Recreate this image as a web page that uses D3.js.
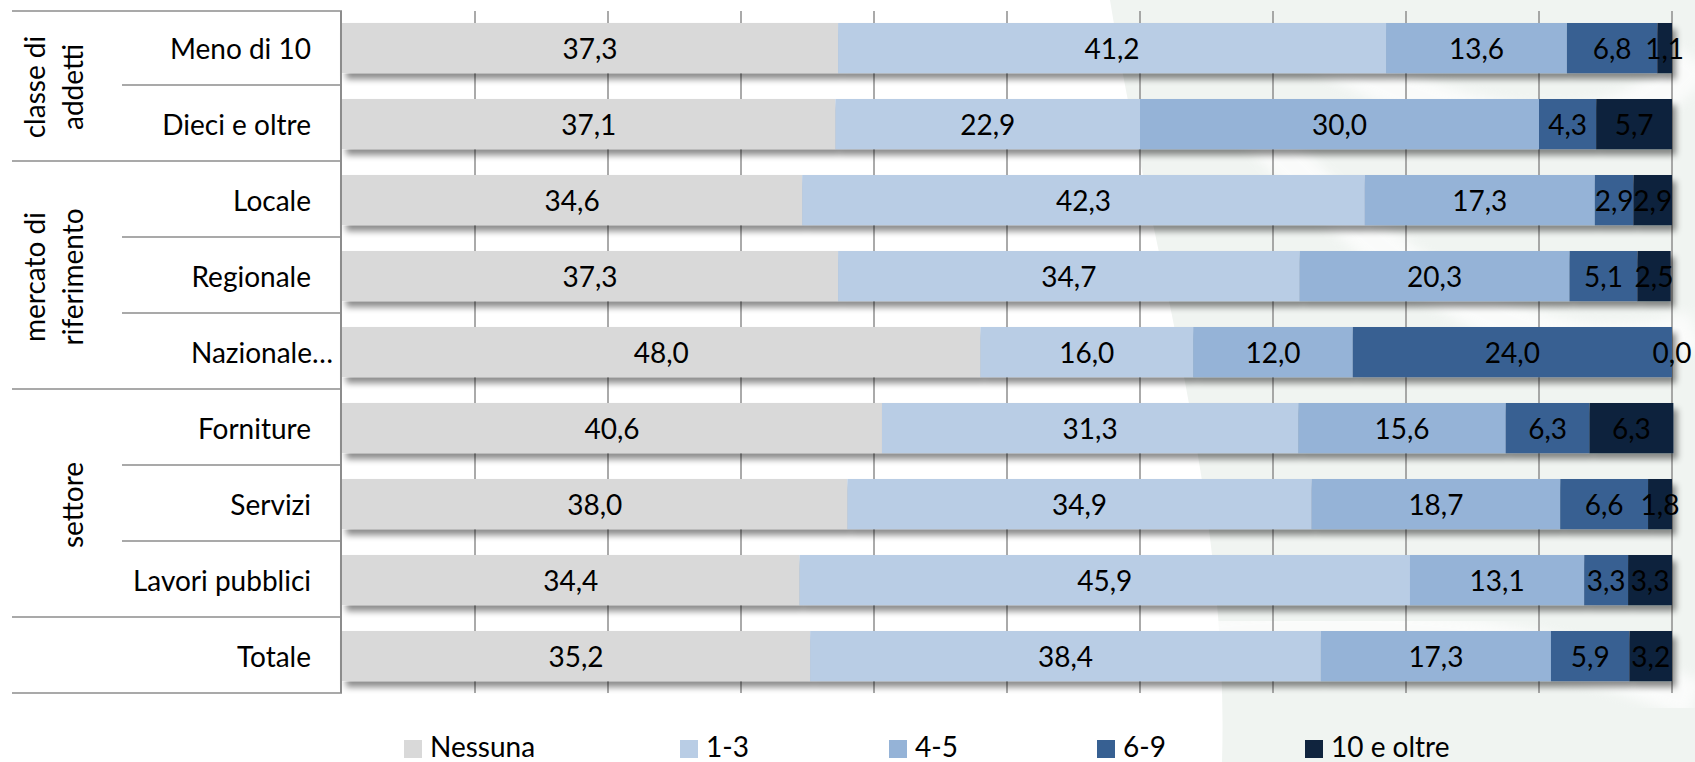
<!DOCTYPE html>
<html>
<head>
<meta charset="utf-8">
<script src="https://cdn.jsdelivr.net/npm/d3@7"></script>
<style>
  html, body { margin: 0; padding: 0; background: #fff; }
  svg { display: block; font-family: Lato, "Open Sans", sans-serif; }
</style>
</head>
<body>
<div id="chart"></div>
<script>
(function () {
    // Data
    var rows = ['Meno di 10', 'Dieci e oltre', 'Locale', 'Regionale', 'Nazionale\u2026',
                'Forniture', 'Servizi', 'Lavori pubblici', 'Totale'];
    var seriesNames = ['Nessuna', '1-3', '4-5', '6-9', '10 e oltre'];
    var nessuna = [37.3, 37.1, 34.6, 37.3, 48.0, 40.6, 38.0, 34.4, 35.2];
    var da1a3 = [41.2, 22.9, 42.3, 34.7, 16.0, 31.3, 34.9, 45.9, 38.4];
    var da4a5 = [13.6, 30.0, 17.3, 20.3, 12.0, 15.6, 18.7, 13.1, 17.3];
    var da6a9 = [6.8, 4.3, 2.9, 5.1, 24.0, 6.3, 6.6, 3.3, 5.9];
    var oltre10 = [1.1, 5.7, 2.9, 2.5, 0.0, 6.3, 1.8, 3.3, 3.2];
    var groupLabels = [['classe di', 'addetti'], ['mercato di', 'riferimento'], ['settore'], ['']];
    var groupSizes = [2, 3, 3, 1];
    var xTicks = [10, 20, 30, 40, 50, 60, 70, 80, 90, 100];

    var colors = ['#d9d9d9', '#b9cde5', '#95b3d7', '#376092', '#10243e'];
    var W = 1695, H = 762;
    var PLOT_L = 342, PLOT_R = 1672, TOP = 11, BOTTOM = 695;
    var TABLE_L = 12, INNER_L = 122;
    var FONT = 28;

    var table = rows.map(function (r, i) {
        return { row: r, values: [nessuna[i], da1a3[i], da4a5[i], da6a9[i], oltre10[i]] };
    });

    var svg = d3.select('#chart').append('svg')
        .attr('width', W).attr('height', H)
        .attr('viewBox', [0, 0, W, H]);

    var defs = svg.append('defs');
    var f = defs.append('filter').attr('id', 'shadow')
        .attr('x', '-5%').attr('y', '-20%').attr('width', '115%').attr('height', '160%');
    f.append('feDropShadow').attr('dx', 4).attr('dy', 6).attr('stdDeviation', 3)
        .attr('flood-color', '#000').attr('flood-opacity', 0.45);
    defs.append('filter').attr('id', 'soft')
        .append('feGaussianBlur').attr('stdDeviation', 6);

    // Faint watermark on the right
    var bg = svg.append('g').attr('class', 'bg-layer');
    bg.append('path')
        .attr('d', 'M1110,0 C1150,250 1230,500 1222,762 L1695,762 L1695,0 Z')
        .attr('fill', '#f0f4f1');
    [[1250, 120, 1500, 400, 1695, 330], [1180, 640, 1450, 600, 1695, 700], [1300, 40, 1580, 200, 1695, 60]]
        .forEach(function (p) {
            bg.append('path')
                .attr('d', 'M' + p[0] + ',' + p[1] + ' Q' + p[2] + ',' + p[3] + ' ' + p[4] + ',' + p[5])
                .attr('fill', 'none').attr('stroke', '#fff').attr('stroke-width', 40)
                .attr('opacity', 0.7).attr('filter', 'url(#soft)');
        });

    var x = d3.scaleLinear().domain([0, 100]).range([PLOT_L, PLOT_R]);
    var y = d3.scaleBand().domain(rows).range([TOP, BOTTOM]).padding(0);
    var barOff = 12, barH = y.bandwidth() * 0.66;

    // Gridlines
    svg.append('g').selectAll('line').data(xTicks).join('line')
        .attr('x1', function (d) { return x(d); }).attr('x2', function (d) { return x(d); })
        .attr('y1', TOP).attr('y2', BOTTOM - 2)
        .attr('stroke', '#868686').attr('stroke-width', 1.4);

    // Stacked bars
    var stack = d3.stack().keys([0, 1, 2, 3, 4]).value(function (d, k) { return d.values[k]; });
    var layers = stack(table);

    var barG = svg.append('g');
    var rowG = barG.selectAll('g.row').data(table).join('g')
        .attr('class', 'row').attr('filter', 'url(#shadow)');
    rowG.each(function (d, i) {
        d3.select(this).selectAll('rect').data(layers.map(function (l) { return l[i]; })).join('rect')
            .attr('x', function (s) { return x(s[0]); })
            .attr('width', function (s) { return x(s[1]) - x(s[0]); })
            .attr('y', y(d.row) + barOff)
            .attr('height', barH)
            .attr('fill', function (s, k) { return colors[k]; });
    });

    // Value labels
    var fmt = function (v) { return v.toFixed(1).replace('.', ','); };
    var labG = svg.append('g').attr('font-size', FONT).attr('fill', '#000').attr('text-anchor', 'middle');
    layers.forEach(function (layer) {
        layer.forEach(function (s, i) {
            labG.append('text')
                .attr('x', (x(s[0]) + x(s[1])) / 2)
                .attr('y', y(rows[i]) + barOff + barH / 2 + 11)
                .text(fmt(s[1] - s[0]));
        });
    });

    // Category table on the left
    var tab = svg.append('g');
    tab.append('line').attr('x1', PLOT_L - 1).attr('x2', PLOT_L - 1).attr('y1', TOP).attr('y2', BOTTOM - 2)
        .attr('stroke', '#8c8c8c').attr('stroke-width', 2);
    var start = 0;
    var groupBounds = [];
    groupSizes.forEach(function (n) { groupBounds.push([start, start + n]); start += n; });
    // top border + row separators
    tab.append('line').attr('x1', TABLE_L).attr('x2', PLOT_L).attr('y1', TOP).attr('y2', TOP)
        .attr('stroke', '#8c8c8c').attr('stroke-width', 1.6);
    rows.forEach(function (r, i) {
        var yy = y(r) + y.bandwidth();
        var isGroupEnd = groupBounds.some(function (b) { return b[1] === i + 1; });
        tab.append('line')
            .attr('x1', isGroupEnd ? TABLE_L : INNER_L).attr('x2', PLOT_L)
            .attr('y1', yy - 2).attr('y2', yy - 2)
            .attr('stroke', '#8c8c8c').attr('stroke-width', 1.6);
    });
    tab.selectAll('text.cat').data(rows).join('text')
        .attr('class', 'cat')
        .attr('x', function (d) { return /\u2026$/.test(d) ? 333 : 311; })
        .attr('y', function (d) { return y(d) + y.bandwidth() / 2 + 10; })
        .attr('text-anchor', 'end').attr('font-size', FONT)
        .text(function (d) { return d; });

    groupLabels.forEach(function (lines, g) {
        var b = groupBounds[g];
        var cy = (y(rows[b[0]]) + y(rows[b[1] - 1]) + y.bandwidth()) / 2;
        lines.forEach(function (t, j) {
            var bx = 83 - 38 * (lines.length - 1 - j);
            tab.append('text')
                .attr('transform', 'translate(' + bx + ',' + cy + ') rotate(-90)')
                .attr('text-anchor', 'middle').attr('font-size', FONT)
                .text(t);
        });
    });

    // Legend
    var legX = [404, 680, 889, 1097, 1305];
    var leg = svg.append('g').selectAll('g').data(seriesNames).join('g')
        .attr('transform', function (d, i) { return 'translate(' + legX[i] + ',740)'; });
    leg.append('rect').attr('width', 18).attr('height', 18)
        .attr('fill', function (d, i) { return colors[i]; });
    leg.append('text').attr('x', 26).attr('y', 17).attr('font-size', FONT)
        .text(function (d) { return d; });
}());
</script>
</body>
</html>
